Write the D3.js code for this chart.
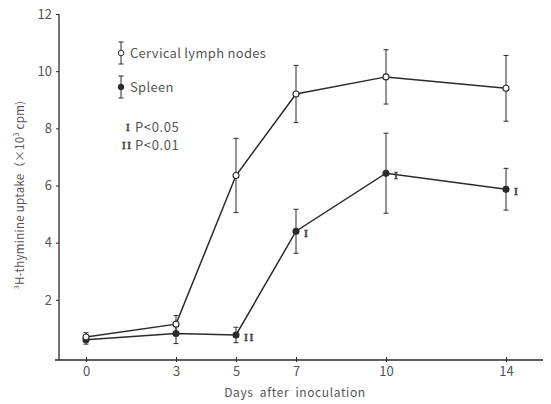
<!DOCTYPE html>
<html><head><meta charset="utf-8">
<script src="https://cdn.jsdelivr.net/npm/d3@7"></script>
<style>
body{margin:0;background:#fff;}
text{font-family:"Noto Sans CJK JP","DejaVu Sans",sans-serif;fill:#555;}
</style></head>
<body><svg id="c" width="551" height="404"></svg>
<script>
const days = [0, 3, 5, 7, 10, 14];
const lymphMean = [0.7, 1.15, 6.35, 9.2, 9.8, 9.4];
const lymphErr  = [0.15, 0.3, 1.3, 1.0, 0.95, 1.15];
const spleenMean = [0.6, 0.82, 0.77, 4.4, 6.43, 5.87];
const spleenErr  = [0.15, 0.35, 0.27, 0.77, 1.4, 0.73];
const spleenSig  = ["", "", "II", "I", "I", "I"];
const yTicks = [2, 4, 6, 8, 10, 12];
const xTicks = [0, 3, 5, 7, 10, 14];

const svg = d3.select("#c");
const x = d3.scaleLinear().domain([0, 14]).range([86, 506]);
const y = d3.scaleLinear().domain([0, 12]).range([357, 14]);
const ink = "#2a2a2a";

// axes
const yAxis = d3.axisLeft(y).tickValues(yTicks).tickSize(3).tickPadding(4).tickFormat(d3.format("d"));
const gy = svg.append("g").attr("transform", "translate(59,0)").call(yAxis);
gy.select(".domain").remove();
gy.selectAll("line").attr("stroke", ink);
gy.selectAll("text").style("font-size", "13px").attr("fill", "#555");
svg.append("line").attr("x1", 59).attr("x2", 59).attr("y1", y(12)).attr("y2", 360).attr("stroke", ink).attr("stroke-width", 1.3);

const xAxis = d3.axisBottom(x).tickValues(xTicks).tickSize(3).tickPadding(5);
const gx = svg.append("g").attr("transform", "translate(0,359)").call(xAxis);
gx.select(".domain").remove();
gx.selectAll("line").attr("stroke", ink).attr("y1", -2);
gx.selectAll("text").style("font-size", "13px").attr("fill", "#555");
svg.append("line").attr("x1", 55).attr("x2", 543).attr("y1", 360).attr("y2", 360).attr("stroke", ink).attr("stroke-width", 1.3);

svg.append("text").attr("x", 295).attr("y", 397).attr("text-anchor", "middle")
  .style("font-size", "12px").style("word-spacing", "3px").style("letter-spacing", "0.6px").text("Days after inoculation");

svg.append("text").attr("transform", "translate(24,195) rotate(-90)").attr("text-anchor", "middle")
  .style("font-size", "11.5px").style("letter-spacing", "0.3px")
  .html('<tspan baseline-shift="super" font-size="7px">3</tspan>H-thyminine uptake（×10<tspan baseline-shift="super" font-size="7px">3</tspan>  cpm)');

function series(mean, err, filled) {
  const pts = days.map((d, i) => ({d, m: mean[i], e: err[i]}));
  const g = svg.append("g");
  g.append("path").datum(pts)
    .attr("d", d3.line().x(p => x(p.d)).y(p => y(p.m)))
    .attr("fill", "none").attr("stroke", ink).attr("stroke-width", 1.5);
  pts.forEach(p => {
    g.append("line").attr("x1", x(p.d)).attr("x2", x(p.d)).attr("y1", y(p.m - p.e)).attr("y2", y(p.m + p.e)).attr("stroke", ink).attr("stroke-width", 1);
    [p.m - p.e, p.m + p.e].forEach(v => g.append("line").attr("x1", x(p.d) - 2.5).attr("x2", x(p.d) + 2.5).attr("y1", y(v)).attr("y2", y(v)).attr("stroke", ink).attr("stroke-width", 1));
  });
  g.selectAll("circle").data(pts).join("circle")
    .attr("cx", p => x(p.d)).attr("cy", p => y(p.m)).attr("r", 3)
    .attr("fill", filled ? ink : "#fff").attr("stroke", ink).attr("stroke-width", 1.1);
}
series(spleenMean, spleenErr, true);
series(lymphMean, lymphErr, false);

days.forEach((d, i) => {
  if (spleenSig[i]) {
    svg.append("text").attr("x", x(d) + 8).attr("y", y(spleenMean[i]) + 6)
      .style("font-family", "'Liberation Serif',serif").style("font-weight", "bold").style("font-size", "10px")
      .style("letter-spacing", "1.5px").attr("fill", ink).attr("stroke", ink).attr("stroke-width", 0.3).text(spleenSig[i]);
  }
});

// legend
function legendItem(cy, filled, label) {
  svg.append("line").attr("x1", 121).attr("x2", 121).attr("y1", cy - 11).attr("y2", cy + 11).attr("stroke", ink);
  [cy - 11, cy + 11].forEach(v => svg.append("line").attr("x1", 118.5).attr("x2", 123.5).attr("y1", v).attr("y2", v).attr("stroke", ink));
  svg.append("circle").attr("cx", 121).attr("cy", cy).attr("r", 2.8).attr("fill", filled ? ink : "#fff").attr("stroke", ink);
  svg.append("text").attr("x", 130).attr("y", cy + 5).style("font-size", "13px").style("letter-spacing", "0.3px").text(label);
}
legendItem(53, false, "Cervical lymph nodes");
legendItem(87, true, "Spleen");
[["I", 126, "P<0.05"], ["II", 122, "P<0.01"]].forEach((r, i) => {
  const cy = 127 + i * 18;
  svg.append("text").attr("x", r[1]).attr("y", cy + 4)
    .style("font-family", "'Liberation Serif',serif").style("font-weight", "bold").style("font-size", "9.5px")
    .style("letter-spacing", "1.5px").attr("fill", ink).attr("stroke", ink).attr("stroke-width", 0.3).text(r[0]);
  svg.append("text").attr("x", 135).attr("y", cy + 5).style("font-size", "13px").style("letter-spacing", "0.6px").text(r[2]);
});
</script></body></html>
